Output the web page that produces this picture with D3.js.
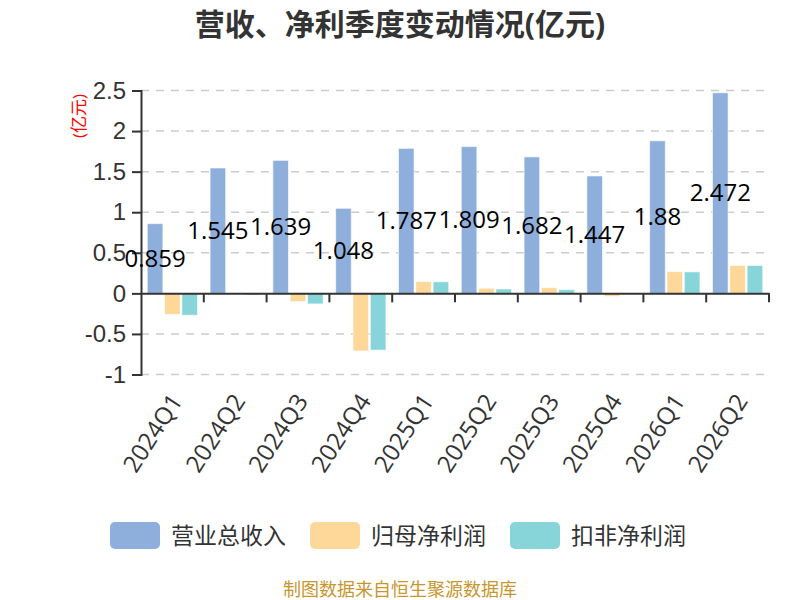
<!DOCTYPE html>
<html>
<head>
<meta charset="utf-8">
<script src="https://cdn.jsdelivr.net/npm/d3@7/dist/d3.min.js"></script>
<style>
  body { margin: 0; background: #fff; }
  svg { font-family: "Open Sans", "Noto Sans CJK SC", sans-serif; }
</style>
</head>
<body>
<div id="chart"></div>
<script>
//Quarter categories
const quarters = ["2024Q1", "2024Q2", "2024Q3", "2024Q4", "2025Q1", "2025Q2", "2025Q3", "2025Q4", "2026Q1", "2026Q2"];

//Series values (亿元)
const revenue = [0.859, 1.545, 1.639, 1.048, 1.787, 1.809, 1.682, 1.447, 1.88, 2.472];
const netProfit = [-0.26, 0.004, -0.10, -0.71, 0.145, 0.062, 0.07, -0.037, 0.268, 0.343];
const deductedProfit = [-0.27, -0.02, -0.13, -0.70, 0.143, 0.054, 0.046, -0.003, 0.265, 0.343];

const seriesNames = ["营业总收入", "归母净利润", "扣非净利润"];
const seriesColors = ["#8eaedb", "#fdd899", "#87d5d9"];
const yTicks = [-1, -0.5, 0, 0.5, 1, 1.5, 2, 2.5];

const width = 800, height = 600;
const margin = {left: 141, right: 31, top: 90.5, bottom: 225.5};

const svg = d3.select("#chart").append("svg")
    .attr("width", width)
    .attr("height", height);

//Title
svg.append("text")
    .attr("x", 400).attr("y", 35)
    .attr("text-anchor", "middle")
    .style("font-size", "30px").style("font-weight", "bold")
    .style("fill", "#333")
    .text("营收、净利季度变动情况(亿元)");

//Scales
let x = d3.scaleBand()
    .domain(quarters)
    .range([margin.left, width - margin.right]);

let bw = x.bandwidth();
let xSeries = d3.scaleBand()
    .domain(d3.range(3))
    .range([bw * 0.1, bw * 0.9])
    .paddingInner(0.1);

let y = d3.scaleLinear()
    .domain([-1, 2.5])
    .range([height - margin.bottom, margin.top]);

//Dashed grid lines
svg.append("g")
    .selectAll("line")
    .data(yTicks.filter(d => d !== 0))
    .join("line")
    .attr("x1", margin.left).attr("x2", width - margin.right)
    .attr("y1", d => y(d)).attr("y2", d => y(d))
    .style("stroke", "#ccc")
    .style("stroke-width", 1.5)
    .style("stroke-dasharray", "8,7");

//Bars
let rows = quarters.map((q, i) => ({q: q, vals: [revenue[i], netProfit[i], deductedProfit[i]]}));

let groups = svg.append("g")
    .selectAll("g")
    .data(rows)
    .join("g")
    .attr("transform", d => "translate(" + x(d.q) + ",0)");

groups.selectAll("rect")
    .data(d => d.vals.map((v, k) => ({k: k, v: v})))
    .join("rect")
    .attr("x", d => xSeries(d.k))
    .attr("width", xSeries.bandwidth())
    .attr("y", d => y(Math.max(0, d.v)))
    .attr("height", d => Math.abs(y(d.v) - y(0)))
    .style("fill", d => seriesColors[d.k])
    .style("stroke", "rgba(255,255,255,0.6)")
    .style("stroke-width", 1);

//Y axis
let yAxis = svg.append("g")
    .attr("transform", "translate(" + margin.left + ",0)")
    .call(d3.axisLeft(y).tickValues(yTicks).tickSize(9).tickPadding(6).tickFormat(d => String(d)));
yAxis.select(".domain").style("stroke", "#333").style("stroke-width", 2);
yAxis.selectAll(".tick line").style("stroke", "#333").style("stroke-width", 2);
yAxis.selectAll(".tick text")
    .style("font-size", "24px").style("fill", "#333");

//X axis on zero
let xAxis = svg.append("g")
    .attr("transform", "translate(0," + y(0) + ")")
    .call(d3.axisBottom(x).tickSize(0).tickFormat(""));
xAxis.select(".domain").style("stroke", "#333").style("stroke-width", 2);

//Boundary ticks
xAxis.append("g")
    .selectAll("line")
    .data(quarters)
    .join("line")
    .attr("x1", d => x(d) + bw).attr("x2", d => x(d) + bw)
    .attr("y1", 0).attr("y2", 9)
    .style("stroke", "#333").style("stroke-width", 2);

//Rotated category labels below the grid
svg.append("g")
    .selectAll("text")
    .data(quarters)
    .join("text")
    .attr("transform", d => "translate(" + (x(d) + bw / 2 + 4) + "," + (y(-1) + 22) + ") rotate(-57)")
    .attr("text-anchor", "end")
    .attr("dy", "0.35em")
    .style("font-size", "24px").style("fill", "#333")
    .text(d => d);

//Value labels at the middle of the revenue bars
svg.append("g")
    .selectAll("text")
    .data(rows)
    .join("text")
    .attr("x", d => x(d.q) + xSeries(0) + xSeries.bandwidth() / 2)
    .attr("y", d => y(d.vals[0] / 2))
    .attr("dy", "0.35em")
    .attr("text-anchor", "middle")
    .style("font-size", "24px").style("fill", "#000")
    .text(d => d.vals[0]);

//Y axis name
svg.append("text")
    .attr("transform", "translate(79,116) rotate(-90)")
    .attr("text-anchor", "middle")
    .attr("dy", "0.35em")
    .style("font-size", "17px").style("fill", "red")
    .text("(亿元)");

//Legend
let legendX = [110, 310, 510];
let legend = svg.append("g")
    .selectAll("g")
    .data(seriesNames)
    .join("g")
    .attr("transform", (d, i) => "translate(" + legendX[i] + ",522)");

legend.append("rect")
    .attr("width", 50).attr("height", 27)
    .attr("rx", 5).attr("ry", 5)
    .style("fill", (d, i) => seriesColors[i]);

legend.append("text")
    .attr("x", 61).attr("y", 14)
    .attr("dy", "0.35em")
    .style("font-size", "23px").style("fill", "#333")
    .text(d => d);

//Footer
svg.append("text")
    .attr("x", 400).attr("y", 596)
    .attr("text-anchor", "middle")
    .style("font-size", "18px").style("fill", "#c8962e")
    .text("制图数据来自恒生聚源数据库");
</script>
</body>
</html>
